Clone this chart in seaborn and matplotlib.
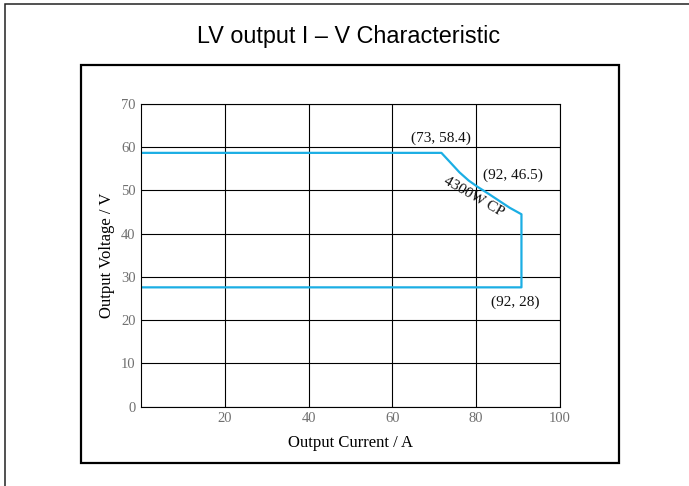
import matplotlib
matplotlib.use("Agg")
import matplotlib.pyplot as plt
import seaborn as sns
import pandas as pd
from matplotlib.patches import Rectangle

# Data
current = [0, 71.7, 74.0, 76.0, 78.2, 80.4, 83.0, 85.5, 88.0, 90.8, 90.8, 0]
voltage = [58.7, 58.7, 56.3, 54.2, 52.3, 50.8, 49.2, 47.6, 46.0, 44.5, 27.6, 27.6]
x_ticks = [20, 40, 60, 80, 100]
y_ticks = [0, 10, 20, 30, 40, 50, 60, 70]
annot_texts = ["(73, 58.4)", "(92, 46.5)", "(92, 28)"]
annot_x = [71.5, 88.8, 89.4]
annot_y = [62.1, 53.6, 24.1]
cp_label = "4300W CP"

sns.set_theme(style="white")
plt.rcParams['font.family'] = ['Liberation Serif', 'DejaVu Serif']

fig = plt.figure(figsize=(6.89, 4.86), dpi=100)
ax = fig.add_axes([141/689, 1-406.7/486, (560-141)/689, (406.7-104)/486])

df = pd.DataFrame({"I": current, "V": voltage})
sns.lineplot(data=df, x="I", y="V", sort=False, estimator=None,
             color="#1BAEE4", linewidth=1.6, ax=ax)

ax.set_xlim(0, 100)
ax.set_ylim(0, 70)
ax.set_xticks(x_ticks)
ax.set_yticks(y_ticks)
ax.tick_params(axis='both', length=0, labelsize=10.5, labelcolor="#707070", pad=4)
ax.grid(True, color="black", linewidth=0.8)
ax.set_axisbelow(True)
for s in ax.spines.values():
    s.set_visible(True)
    s.set_color("black")
    s.set_linewidth(0.8)

ax.set_xlabel("Output Current / A", fontsize=12, color="black", labelpad=7)
ax.set_ylabel("Output Voltage / V", fontsize=12, color="black", labelpad=4)

for t, xx, yy in zip(annot_texts, annot_x, annot_y):
    ax.text(xx, yy, t, fontsize=11, ha="center", va="center", color="#111111")
ax.text(79.5, 48.5, cp_label, fontsize=11, ha="center", va="center",
        rotation=-30, rotation_mode="anchor", color="#111111")

fig.text(349/689, 1-36.5/486, "LV output I \u2013 V Characteristic",
         fontsize=16.8, ha="center", va="center", color="black",
         family=['Liberation Sans', 'DejaVu Sans'])

# inner frame
fig.patches.append(Rectangle((81/689, 1-463/486), (619-81)/689, (463-65)/486,
                             transform=fig.transFigure, fill=False,
                             edgecolor="black", linewidth=1.6))
# outer frame (extends past right/bottom edges)
fig.patches.append(Rectangle((4.5/689, -0.1), 1.2, (1-4.5/486)+0.1,
                             transform=fig.transFigure, fill=False,
                             edgecolor="#222222", linewidth=1.1))

fig.savefig("out.png", dpi=100)
